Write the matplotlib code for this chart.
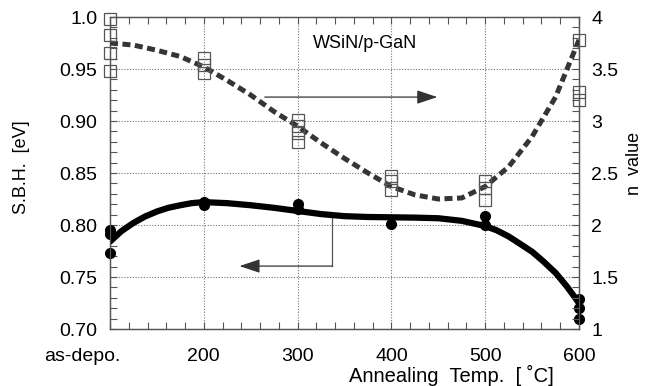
import matplotlib
matplotlib.use('Agg')
import matplotlib.pyplot as plt
import matplotlib.transforms as mtransforms
import numpy as np

plt.rcParams['font.family'] = ['Liberation Sans', 'DejaVu Sans']

# annealing temperature, 100 stands for the as-deposited sample
xtick_vals = [100, 200, 300, 400, 500, 600]
xtick_labels = ['as-depo.', '200', '300', '400', '500', '600']

# Schottky barrier height, measured [eV]
sbh_x = [100, 100, 100, 200, 200, 300, 300, 400, 500, 500, 600, 600, 600]
sbh_y = [0.795, 0.791, 0.773, 0.822, 0.819, 0.820, 0.815, 0.801, 0.809, 0.800, 0.729, 0.7205, 0.710]

# ideality factor, measured
n_x = [100, 100, 100, 100, 200, 200, 200, 300, 300, 300, 300,
       400, 400, 400, 500, 500, 500, 600, 600, 600]
n_y = [3.98, 3.83, 3.65, 3.48, 3.61, 3.54, 3.46, 3.01, 2.95, 2.88, 2.80,
       2.47, 2.42, 2.34, 2.42, 2.36, 2.24, 3.78, 3.28, 3.20]

# trend curves
sbh_fit_x = [100, 112, 125, 137, 150, 162, 175, 187, 200, 225, 250, 275, 300, 325, 350, 375, 400,
             425, 450, 475, 500, 512, 525, 537, 550, 562, 575, 587, 600]
sbh_fit_y = [0.784, 0.794, 0.802, 0.808, 0.813, 0.8165, 0.819, 0.821, 0.822, 0.821, 0.819, 0.8165,
             0.8135, 0.8105, 0.8085, 0.8077, 0.8074, 0.8071, 0.8065, 0.804, 0.799, 0.795, 0.789,
             0.782, 0.7743, 0.765, 0.754, 0.741, 0.725]
n_fit_x = [100, 125, 150, 175, 200, 225, 250, 275, 300, 325, 350, 375, 400,
           425, 450, 475, 500, 525, 550, 575, 600]
n_fit_y = [3.75, 3.73, 3.68, 3.62, 3.52, 3.39, 3.25, 3.09, 2.95, 2.79, 2.64, 2.50, 2.37,
           2.29, 2.25, 2.26, 2.37, 2.56, 2.85, 3.23, 3.78]

fig = plt.figure(figsize=(6.48, 3.86), dpi=100)
ax = fig.add_axes([110 / 648, 1 - 329 / 386, 469 / 648, 312 / 386])
ax2 = ax.twinx()

grid_kw = dict(color='#777777', linestyle=(0, (1, 1.5)), linewidth=0.8)
for xv in [200, 300, 400, 500]:
    ax.axvline(xv, **grid_kw, zorder=1)
for yv in [0.75, 0.80, 0.85, 0.90, 0.95]:
    ax.axhline(yv, **grid_kw, zorder=1)

ax.plot(sbh_fit_x, sbh_fit_y, color='black', linewidth=4.5, solid_capstyle='round',
        solid_joinstyle='round', zorder=3)
ax.plot(sbh_x, sbh_y, 'o', color='black', markersize=7, zorder=4, clip_on=False)

ax2.plot(n_fit_x, n_fit_y, color='#353535', linewidth=3.6, linestyle=(0, (1.6, 0.9)), zorder=3)
ax2.plot(n_x, n_y, 's', markerfacecolor='none', markeredgecolor='#555555', markersize=8,
         markeredgewidth=0.9, zorder=4, clip_on=False)

ax.set_xlim(100, 600)
ax.set_ylim(0.70, 1.0)
ax2.set_ylim(1, 4)

ax.set_xticks(xtick_vals)
ax.set_xticklabels(xtick_labels)
ax.set_xticks(np.arange(100, 601, 20), minor=True)
ax.set_yticks([0.70, 0.75, 0.80, 0.85, 0.90, 0.95, 1.0])
ax.set_yticklabels(['0.70', '0.75', '0.80', '0.85', '0.90', '0.95', '1.0'])
ax.set_yticks(np.arange(0.70, 1.001, 0.01), minor=True)
ax2.set_yticks([1, 1.5, 2, 2.5, 3, 3.5, 4])
ax2.set_yticklabels(['1', '1.5', '2', '2.5', '3', '3.5', '4'])
ax2.set_yticks(np.arange(1, 4.01, 0.1), minor=True)

ax.tick_params(axis='x', which='both', direction='in', top=True, length=5, width=0.8,
               color='#555555', labelsize=14, pad=14)
ax.tick_params(axis='y', which='both', direction='in', length=5, width=0.8,
               color='#555555', labelsize=14, pad=9)
ax2.tick_params(axis='y', which='both', direction='in', length=5, width=0.8,
                color='#555555', labelsize=14, pad=9)

# shift the as-depo. label to the left of its tick
lab = ax.get_xticklabels()[0]
lab.set_transform(lab.get_transform() + mtransforms.ScaledTranslation(-28 / 100, 0, fig.dpi_scale_trans))

for a in (ax, ax2):
    for s in a.spines.values():
        s.set_color('#555555')
        s.set_linewidth(0.9)

ax.set_ylabel('S.B.H.  [eV]', fontsize=13)
ax.yaxis.set_label_coords(-0.17, 0.52)
ax2.set_ylabel('n  value', fontsize=13)
ax2.yaxis.set_label_coords(1.1, 0.53)
fig.text(451 / 648, 1 - 375 / 386, 'Annealing  Temp.  [ ˚C]', fontsize=14.5, ha='center', va='center')

ax.text(372, 0.975, 'WSiN/p-GaN', fontsize=13, ha='center', va='center')

arrow_kw = dict(arrowstyle='-|>,head_length=0.9,head_width=0.3', color='#333333',
                linewidth=0.9, shrinkA=0, shrinkB=0, mutation_scale=14)
ax.annotate('', xy=(449, 0.923), xytext=(265, 0.923), arrowprops=arrow_kw, zorder=5)
ax.plot([337, 337], [0.807, 0.7605], color='#555555', linewidth=0.9, zorder=2)
ax.annotate('', xy=(238, 0.7605), xytext=(337, 0.7605), arrowprops=arrow_kw, zorder=5)

fig.savefig('out.png', dpi=100)
